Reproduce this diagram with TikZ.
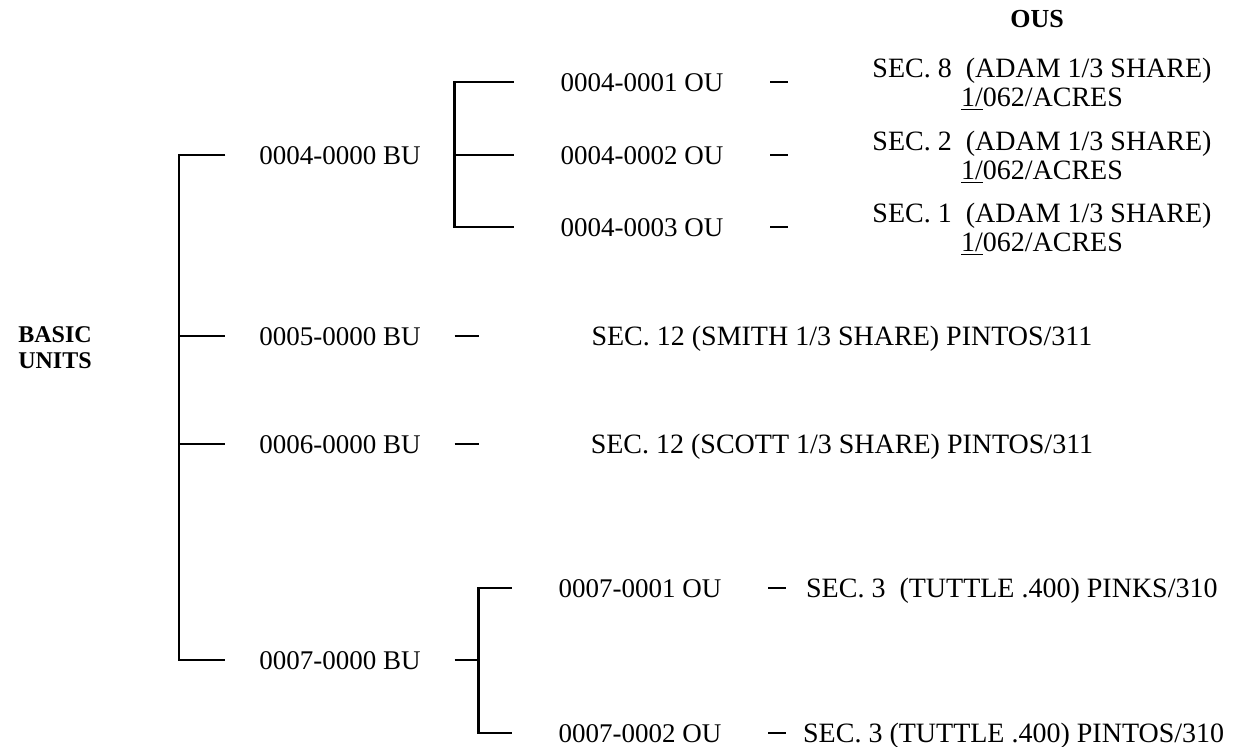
\documentclass[tikz,border=0pt]{standalone}
\usepackage{fontspec}
\setmainfont{Liberation Serif}
\usepackage{tikz}

\tikzset{
  unit/.style={inner sep=0pt, outer xsep=17pt, text height=9pt, text depth=0pt},
  opunit/.style={inner sep=0pt, outer xsep=23.5pt, text height=9pt, text depth=0pt},
  tract/.style={inner sep=0pt, text height=9pt, text depth=0pt, font=\fontsize{14}{14.5}\selectfont},
  tractpair/.style={inner sep=0pt, align=center, font=\fontsize{14}{14.5}\selectfont},
  heading/.style={font=\bfseries\fontsize{12}{13}\selectfont, align=center}
}

\begin{document}
\begin{tikzpicture}[x=0.5pt, y=-0.5pt, line width=1.15pt,
    every node/.style={font=\fontsize{13.5}{14}\selectfont}]
    \useasboundingbox (0,0) rectangle (1253,746);

    \node (basic) [heading] at (55,348) {BASIC\\UNITS};
    \node (ous) [heading, font=\bfseries\fontsize{13}{14}\selectfont] at (1037,19) {OUS};

    \node (bu4) [unit] at (340,155) {0004-0000 BU};
    \node (bu5) [unit] at (340,336) {0005-0000 BU};
    \node (bu6) [unit] at (340,444) {0006-0000 BU};
    \node (bu7) [unit] at (340,660) {0007-0000 BU};

    \node (ou41) [opunit] at (642,82) {0004-0001 OU};
    \node (ou42) [opunit] at (642,155) {0004-0002 OU};
    \node (ou43) [opunit] at (642,227) {0004-0003 OU};
    \node (ou71) [opunit] at (640,588) {0007-0001 OU};
    \node (ou72) [opunit] at (640,733) {0007-0002 OU};

    \node (sec41) [tractpair] at (1042,84) {SEC.~8\ \ (ADAM 1/3 SHARE)\\\underline{1/}062/ACRES};
    \node (sec42) [tractpair] at (1042,157) {SEC.~2\ \ (ADAM 1/3 SHARE)\\\underline{1/}062/ACRES};
    \node (sec43) [tractpair] at (1042,229) {SEC.~1\ \ (ADAM 1/3 SHARE)\\\underline{1/}062/ACRES};
    \node (sec5) [tract] at (842,336) {SEC. 12 (SMITH 1/3 SHARE) PINTOS/311};
    \node (sec6) [tract] at (842,444) {SEC. 12 (SCOTT 1/3 SHARE) PINTOS/311};
    \node (sec71) [tract, anchor=west] at (805,588) {SEC.~3\ \ (TUTTLE .400) PINKS/310};
    \node (sec72) [tract, anchor=west] at (802,733) {SEC. 3 (TUTTLE .400) PINTOS/310};

    % basic units bracket
    \coordinate (spine) at (179,0);
    \draw (bu4.west) -- (bu4.west -| spine) |- (bu7.west);
    \draw (bu5.west -| spine) -- (bu5.west);
    \draw (bu6.west -| spine) -- (bu6.west);

    % 0004 operating units
    \draw (ou41.west) -| (bu4.east) |- (ou43.west);
    \draw (bu4.east) -- (ou42.west);

    % 0007 operating units
    \draw (bu7.east) -- ++(24,0) coordinate (fork7);
    \draw (ou71.west) -| (fork7) |- (ou72.west);

    % short ties to the tracts
    \draw (bu5.east) -- ++(24,0);
    \draw (bu6.east) -- ++(24,0);
    \foreach \u in {ou41,ou42,ou43,ou71,ou72}
        \draw (\u.east) -- ++(18,0);
\end{tikzpicture}
\end{document}
